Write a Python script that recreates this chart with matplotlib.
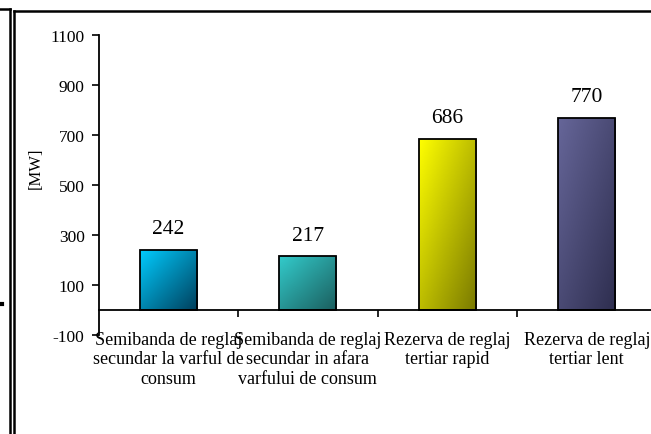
import numpy as np
import matplotlib
matplotlib.use("Agg")
import matplotlib.pyplot as plt
from matplotlib.colors import LinearSegmentedColormap
from matplotlib.lines import Line2D

# date
categorii = ["Semibanda de reglaj\nsecundar la varful de\nconsum",
             "Semibanda de reglaj\nsecundar in afara\nvarfului de consum",
             "Rezerva de reglaj\ntertiar rapid",
             "Rezerva de reglaj\ntertiar lent"]
valori = [242, 217, 686, 770]
culori_sus = ["#00ccff", "#33cccc", "#ffff00", "#666699"]
culori_jos = ["#003f5c", "#1b5e5e", "#7a7a00", "#2e2e4f"]
y_ticks = [-100, 100, 300, 500, 700, 900, 1100]

plt.rcParams['font.family'] = ['Liberation Serif', 'DejaVu Serif']

fig = plt.figure(figsize=(6.51, 4.35), dpi=100)
ax = fig.add_axes([98.5/651, 99/435, 558/651, 300/435])

x = np.arange(len(valori))
bare = ax.bar(x, valori, width=0.41, facecolor='none', edgecolor='black',
              linewidth=1.3, zorder=3)

# umplere cu gradient
for b, c1, c2 in zip(bare, culori_sus, culori_jos):
    cmap = LinearSegmentedColormap.from_list("g", [c1, c2])
    xx, yy = np.meshgrid(np.linspace(0, 1, 60), np.linspace(0, 1, 100))
    grad = (xx + yy) / 2
    x0, y0 = b.get_x(), b.get_y()
    w, h = b.get_width(), b.get_height()
    im = ax.imshow(grad[::-1], cmap=cmap, extent=[x0, x0 + w, y0, y0 + h],
                   origin='lower', aspect='auto', zorder=2, vmin=0, vmax=1)
    im.set_clip_path(b)

for xi, v in zip(x, valori):
    ax.annotate(str(v), (xi, v), xytext=(0, 8), textcoords='offset points',
                ha='center', va='bottom', fontsize=15.5)

ax.set_xlim(-0.5, 3.5)
ax.set_ylim(-100, 1100)
ax.set_yticks(y_ticks)
ax.set_yticklabels([str(t) for t in y_ticks])
ax.set_xticks(x)
ax.set_xticklabels(categorii)
ax.set_xticks([0.5, 1.5, 2.5], minor=True)
ax.tick_params(axis='x', which='major', length=0, pad=15, labelsize=13)
ax.tick_params(axis='x', which='minor', length=5, width=1.2, direction='out')
ax.tick_params(axis='y', length=5, width=1.2, direction='out', pad=5, labelsize=12.5)
for t in ax.get_xticklabels():
    t.set_linespacing(1.2)
for t in ax.get_yticklabels():
    t.set_fontsize(12.5)

ax.spines['top'].set_visible(False)
ax.spines['right'].set_visible(False)
ax.spines['bottom'].set_position(('data', 0))
ax.spines['bottom'].set_linewidth(1.3)
ax.spines['left'].set_linewidth(1.3)
ax.set_ylabel("[MW]", fontsize=12)
ax.yaxis.set_label_coords(-0.099, 0.56)

# chenar
lw = 1.8
fig.add_artist(Line2D([9.5/651, 9.5/651], [0, 1 - 10/435], color='black', lw=lw, transform=fig.transFigure))
fig.add_artist(Line2D([0, 9.5/651], [1 - 10/435, 1 - 10/435], color='black', lw=lw, transform=fig.transFigure))
fig.add_artist(Line2D([14/651, 14/651], [0, 1 - 11.5/435], color='black', lw=lw, transform=fig.transFigure))
fig.add_artist(Line2D([14/651, 1], [1 - 11.5/435, 1 - 11.5/435], color='black', lw=lw, transform=fig.transFigure))
fig.add_artist(Line2D([0, 2/651], [1 - 305/435, 1 - 305/435], color='black', lw=3, transform=fig.transFigure))

fig.savefig("out.png", dpi=100)
